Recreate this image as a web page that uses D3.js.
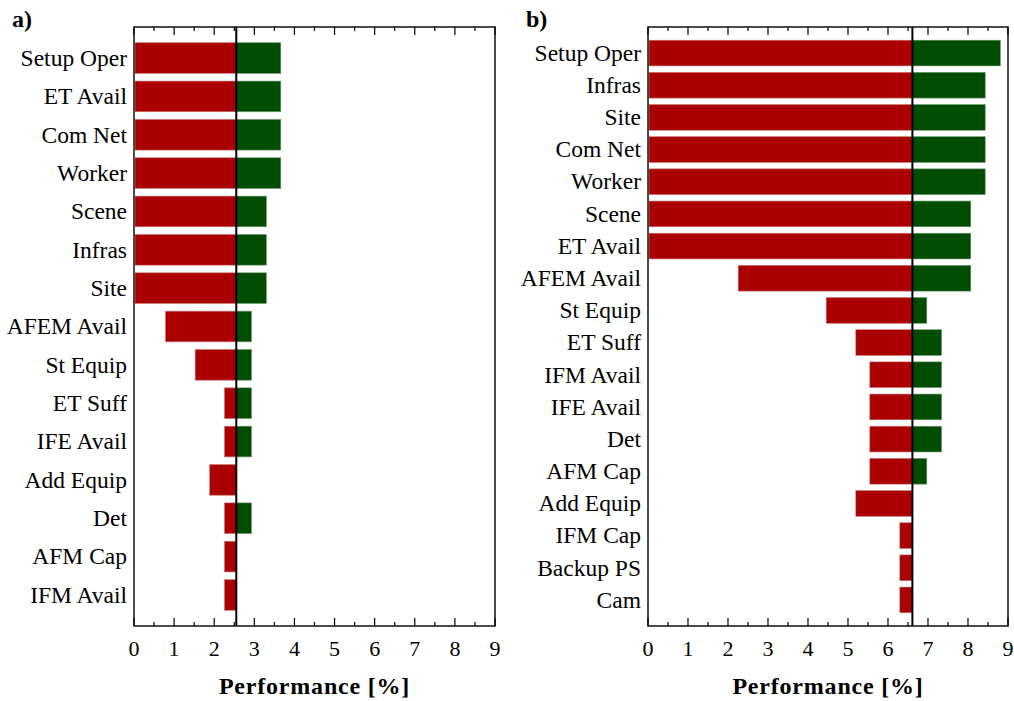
<!DOCTYPE html>
<html>
<head>
<meta charset="UTF-8">
<title>Tornado charts</title>
<script src="https://d3js.org/d3.v7.min.js"></script>
<style>
  body { margin: 0; background: #fff; }
  svg text { font-family: "Liberation Serif", "Times New Roman", "DejaVu Serif", serif; fill: #000; }
</style>
</head>
<body>
<div id="chart"></div>
<script>
// panel a
var catsA = ['Setup Oper', 'ET Avail', 'Com Net', 'Worker', 'Scene', 'Infras', 'Site',
  'AFEM Avail', 'St Equip', 'ET Suff', 'IFE Avail', 'Add Equip', 'Det', 'AFM Cap', 'IFM Avail'];
var lowA  = [0, 0, 0, 0, 0, 0, 0, 0.76, 1.50, 2.23, 2.23, 1.86, 2.23, 2.23, 2.23];
var highA = [3.66, 3.66, 3.66, 3.66, 3.30, 3.30, 3.30, 2.93, 2.93, 2.93, 2.93, 2.55, 2.93, 2.55, 2.55];
var baseA = 2.55;

// panel b
var catsB = ['Setup Oper', 'Infras', 'Site', 'Com Net', 'Worker', 'Scene', 'ET Avail',
  'AFEM Avail', 'St Equip', 'ET Suff', 'IFM Avail', 'IFE Avail', 'Det', 'AFM Cap',
  'Add Equip', 'IFM Cap', 'Backup PS', 'Cam'];
var lowB  = [0, 0, 0, 0, 0, 0, 0, 2.23, 4.43, 5.17, 5.52, 5.52, 5.52, 5.52, 5.17, 6.27, 6.27, 6.27];
var highB = [8.81, 8.43, 8.43, 8.43, 8.43, 8.07, 8.07, 8.07, 6.97, 7.34, 7.34, 7.34, 7.34, 6.97, 6.61, 6.61, 6.61, 6.61];
var baseB = 6.61;

var xTicks = [0, 1, 2, 3, 4, 5, 6, 7, 8, 9];
var xTitle = 'Performance [%]';

var width = 1014, height = 701;
var svg = d3.select('#chart').append('svg')
  .attr('width', width)
  .attr('height', height)
  .attr('font-family', '"Liberation Serif", "Times New Roman", serif');

function drawPanel(opt) {
  var g = svg.append('g');
  var x = d3.scaleLinear().domain([0, 9]).range([opt.left, opt.right]);
  var y = d3.scaleBand().domain(opt.cats)
    .range([opt.top, opt.bottom])
    .paddingInner(0.2)
    .paddingOuter(0.41);

  var rows = opt.cats.map(function(c, i) {
    return { cat: c, low: opt.low[i], high: opt.high[i] };
  });

  // red part: low -> base
  g.selectAll('.neg').data(rows.filter(function(d) { return d.low < opt.base; }))
    .enter().append('rect')
    .attr('x', function(d) { return x(d.low) + 1; })
    .attr('width', function(d) { return x(opt.base) - x(d.low) - 1; })
    .attr('y', function(d) { return y(d.cat); })
    .attr('height', y.bandwidth())
    .attr('fill', '#aa0000')
    .attr('stroke', '#c97b7b')
    .attr('stroke-width', 0.6);

  // green part: base -> high
  g.selectAll('.pos').data(rows.filter(function(d) { return d.high > opt.base; }))
    .enter().append('rect')
    .attr('x', x(opt.base))
    .attr('width', function(d) { return x(d.high) - x(opt.base); })
    .attr('y', function(d) { return y(d.cat); })
    .attr('height', y.bandwidth())
    .attr('fill', '#004c00')
    .attr('stroke', '#6f9a6f')
    .attr('stroke-width', 0.6);

  // frame
  g.append('rect')
    .attr('x', opt.left).attr('y', opt.top)
    .attr('width', opt.right - opt.left).attr('height', opt.bottom - opt.top)
    .attr('fill', 'none').attr('stroke', '#000').attr('stroke-width', 1.4);

  // inward ticks, top and bottom
  var minor = d3.range(0.5, 9, 1);
  [[opt.bottom, -1], [opt.top, 1]].forEach(function(s) {
    g.selectAll(null).data(xTicks).enter().append('line')
      .attr('x1', function(d) { return x(d); }).attr('x2', function(d) { return x(d); })
      .attr('y1', s[0]).attr('y2', s[0] + s[1] * 8)
      .attr('stroke', '#000').attr('stroke-width', 1.2);
    g.selectAll(null).data(minor).enter().append('line')
      .attr('x1', function(d) { return x(d); }).attr('x2', function(d) { return x(d); })
      .attr('y1', s[0]).attr('y2', s[0] + s[1] * 4)
      .attr('stroke', '#000').attr('stroke-width', 1.2);
  });

  // tick labels
  g.selectAll('.tl').data(xTicks).enter().append('text')
    .attr('x', function(d) { return x(d); })
    .attr('y', 656)
    .attr('text-anchor', 'middle')
    .style('font-size', '22px')
    .text(function(d) { return d; });

  // category labels
  g.selectAll('.cl').data(rows).enter().append('text')
    .attr('x', opt.left - 7)
    .attr('y', function(d) { return y(d.cat) + y.bandwidth() / 2; })
    .attr('dy', '0.33em')
    .attr('text-anchor', 'end')
    .style('font-size', '23.5px')
    .text(function(d) { return d.cat; });

  // base line
  g.append('line')
    .attr('x1', x(opt.base)).attr('x2', x(opt.base))
    .attr('y1', opt.top).attr('y2', opt.bottom)
    .attr('stroke', '#000').attr('stroke-width', 2);

  // axis title
  g.append('text')
    .attr('x', (opt.left + opt.right) / 2)
    .attr('y', 694)
    .attr('text-anchor', 'middle')
    .style('font-size', '24px')
    .style('font-weight', 'bold')
    .style('letter-spacing', '0.8px')
    .text(xTitle);

  // panel letter
  g.append('text')
    .attr('x', opt.letterX)
    .attr('y', 27)
    .style('font-size', '24px')
    .style('font-weight', 'bold')
    .text(opt.letter);
}

drawPanel({ cats: catsA, low: lowA, high: highA, base: baseA,
  left: 134, right: 495, top: 27, bottom: 626, letter: 'a)', letterX: 12 });
drawPanel({ cats: catsB, low: lowB, high: highB, base: baseB,
  left: 648, right: 1008, top: 27, bottom: 626, letter: 'b)', letterX: 526 });
</script>
</body>
</html>
